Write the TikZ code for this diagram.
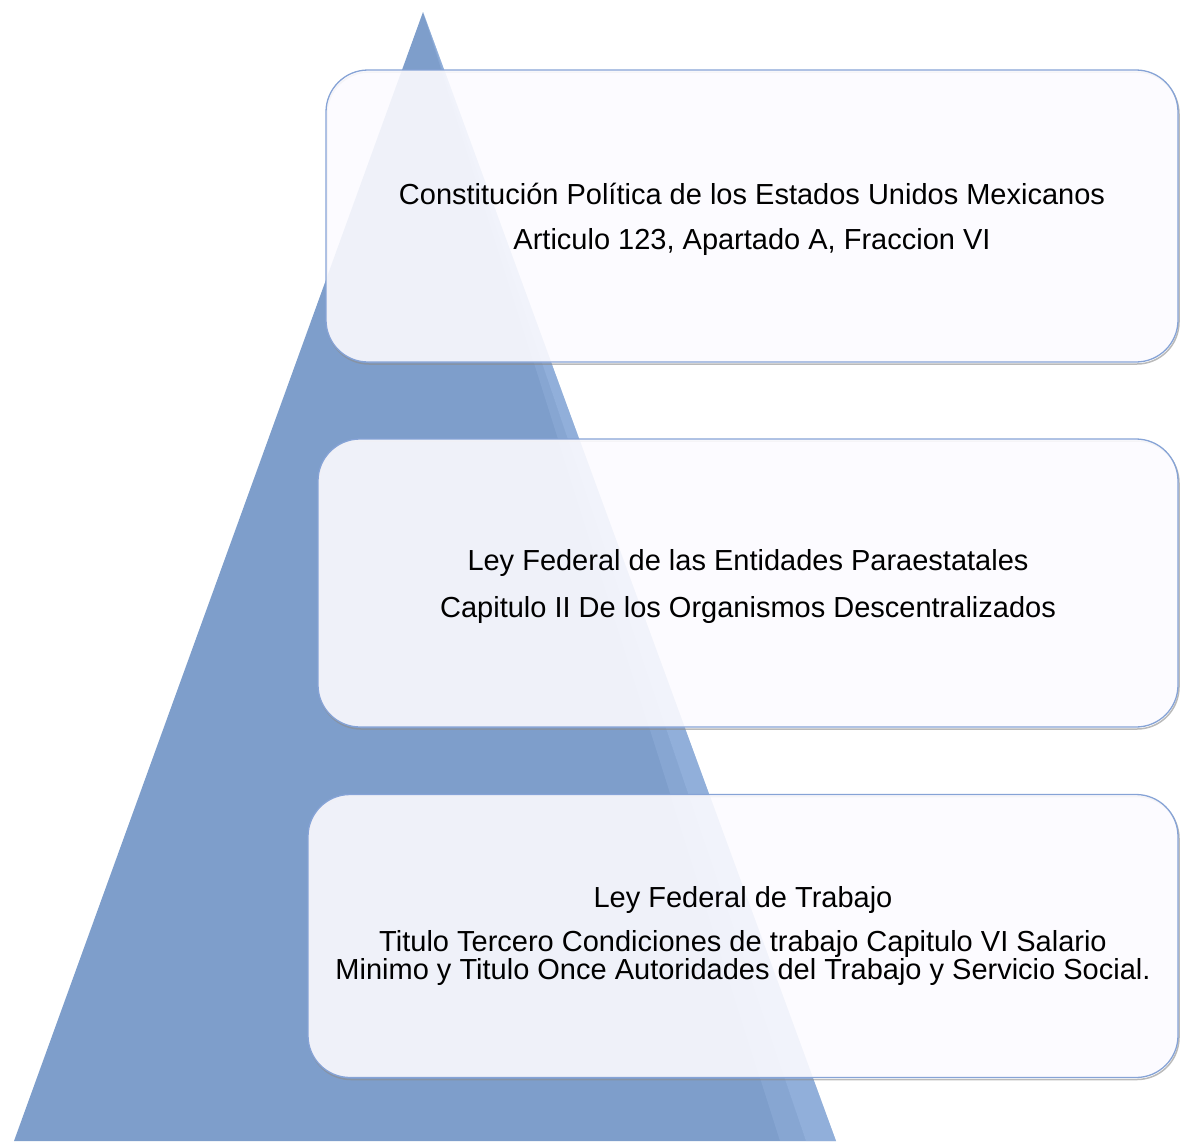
\documentclass[tikz,border=0pt]{standalone}
\usepackage{fontspec}
\setmainfont{Liberation Sans}
\usepackage{tikz}
\usetikzlibrary{positioning}
\definecolor{pyrblue}{HTML}{7E9ECB}
\definecolor{pyrlight}{HTML}{A4C0EA}
\definecolor{boxline}{HTML}{86A3D6}
\definecolor{boxfill}{HTML}{FCFBFF}
\tikzset{
    lawbox/.style={rectangle,rounded corners=42pt, draw=boxline, line width=1.3pt,
        fill=boxfill, fill opacity=0.9, text opacity=1, align=center,
        inner sep=0pt, font=\fontsize{29}{26}\selectfont,
        preaction={draw=black!45, line width=1.5pt, draw opacity=0.6,
            transform canvas={xshift=1pt, yshift=-2pt}}},
    pyr/.style={fill=pyrblue, draw=none}
}
\begin{document}
\begin{tikzpicture}[x=1pt,y=-1pt]
    \useasboundingbox (0,0) rectangle (1180,1141);
    % pyramid
    \coordinate (apex) at (423,12);
    \coordinate (bl) at (14,1141);
    \coordinate (br) at (836,1141);
    \fill[pyr] (apex) -- (br) -- (bl) -- cycle;
    \fill[pyrlight, opacity=0.5] (apex) -- (br) -- (806,1141) -- cycle;
    \fill[pyrlight, opacity=0.25] (apex) -- (806,1141) -- (780,1141) -- cycle;
    % boxes
    \node[lawbox, minimum width=852pt, minimum height=292pt, text height=74pt] (cpeum) at (752,216)
        {Constitución Política de los Estados Unidos Mexicanos\\[19pt]
         Articulo 123, Apartado A, Fraccion VI};
    \node[lawbox, minimum width=860pt, minimum height=288pt, text height=75pt] (lfep) at (748,583)
        {Ley Federal de las Entidades Paraestatales\\[19pt]
         Capitulo II De los Organismos Descentralizados};
    \node[lawbox, minimum width=870pt, minimum height=283pt] (lft) at (743,936)
        {Ley Federal de Trabajo\\[16pt]
         Titulo Tercero Condiciones de trabajo Capitulo VI Salario\\
         Minimo y Titulo Once Autoridades del Trabajo y Servicio Social.};
\end{tikzpicture}
\end{document}
